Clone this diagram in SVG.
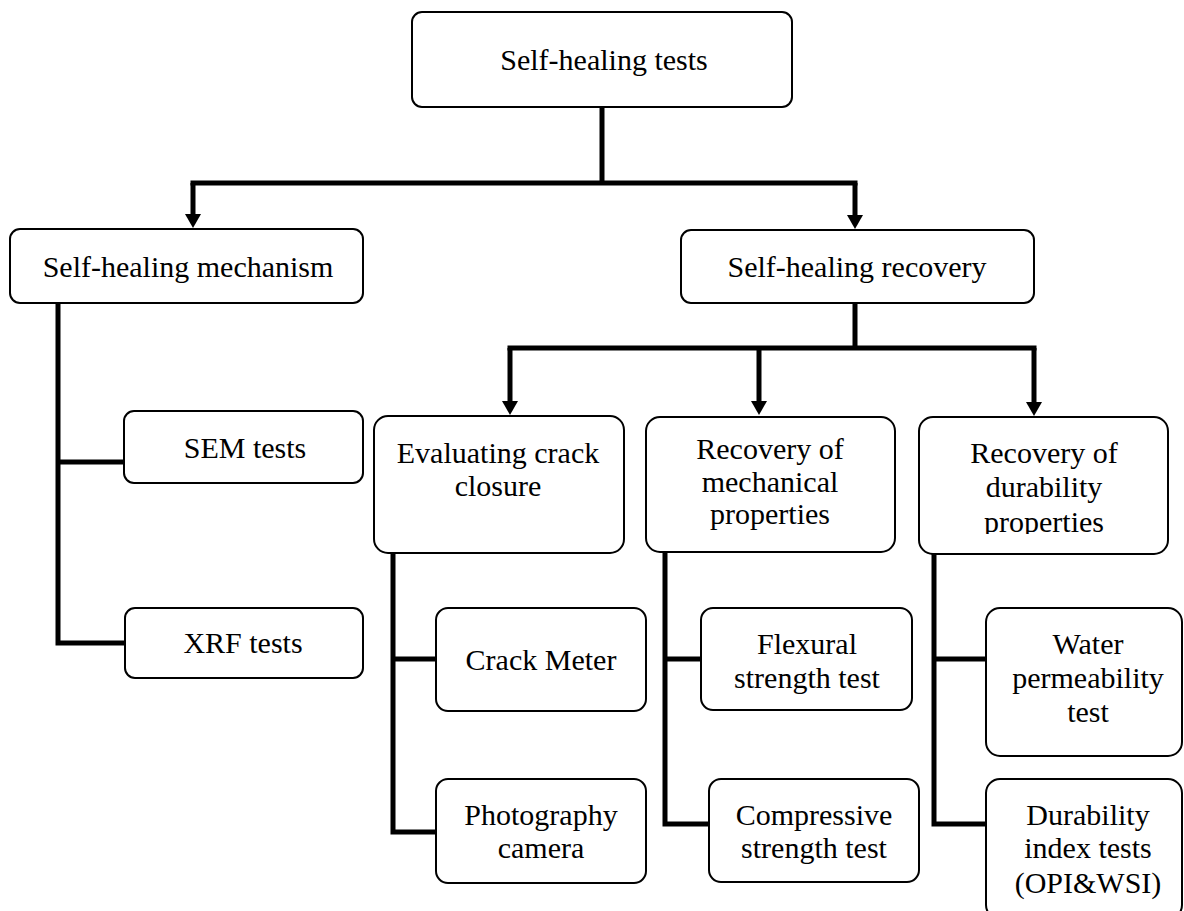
<svg xmlns="http://www.w3.org/2000/svg" width="1184" height="911" viewBox="0 0 1184 911">
<style>
.box{fill:#fff;stroke:#000;stroke-width:2}
.t{font-family:"Liberation Serif","Times New Roman",serif;font-size:30px;fill:#000;text-anchor:middle}
.c{fill:none;stroke:#000;stroke-width:5;stroke-linejoin:miter;stroke-linecap:square}
.a{fill:none;stroke:#000;stroke-width:5;stroke-linecap:butt}
</style>
<defs>
<marker id="arr" markerUnits="userSpaceOnUse" markerWidth="14" markerHeight="16" viewBox="0 0 14 16" refX="0" refY="8" orient="auto">
<path d="M0,0 L14,8 L0,16 z" fill="#000"/>
</marker>
<clipPath id="clipDur"><rect x="900" y="400" width="284" height="134"/></clipPath>
</defs>
<g id="connectors">
<path class="c" d="M602,110 V183 M193,183 H855"/>
<path class="a" d="M193,183 V214" marker-end="url(#arr)"/>
<path class="a" d="M855,183 V215" marker-end="url(#arr)"/>
<path class="c" d="M855,305 V348 M510,348 H1034"/>
<path class="a" d="M510,348 V401" marker-end="url(#arr)"/>
<path class="a" d="M759,348 V401" marker-end="url(#arr)"/>
<path class="a" d="M1034,348 V402" marker-end="url(#arr)"/>
<path class="c" d="M58,305 V643 H124 M58,462 H124"/>
<path class="c" d="M393,555 V832 H436 M393,659 H436"/>
<path class="c" d="M665,554 V824 H709 M665,659 H701"/>
<path class="c" d="M934,556 V824 H986 M934,659 H986"/>
</g>
<g id="n-top">
<rect class="box" x="412" y="12" width="380" height="95" rx="10"/>
<text class="t" x="604" y="70">Self-healing tests</text>
</g>
<g id="n-mechanism">
<rect class="box" x="10" y="229" width="353" height="74" rx="10"/>
<text class="t" x="188" y="277">Self-healing mechanism</text>
</g>
<g id="n-recovery">
<rect class="box" x="681" y="230" width="353" height="73" rx="10"/>
<text class="t" x="857" y="277">Self-healing recovery</text>
</g>
<g id="n-sem">
<rect class="box" x="124" y="411" width="239" height="72" rx="10"/>
<text class="t" x="245" y="458">SEM tests</text>
</g>
<g id="n-xrf">
<rect class="box" x="125" y="608" width="238" height="70" rx="10"/>
<text class="t" x="243" y="653">XRF tests</text>
</g>
<g id="n-crack">
<rect class="box" x="374" y="416" width="250" height="137" rx="14"/>
<text class="t" x="498" y="463">Evaluating crack</text>
<text class="t" x="498" y="496">closure</text>
</g>
<g id="n-mech">
<rect class="box" x="646" y="417" width="249" height="135" rx="14"/>
<text class="t" x="770" y="459">Recovery of</text>
<text class="t" x="770" y="492">mechanical</text>
<text class="t" x="770" y="524">properties</text>
</g>
<g id="n-dur">
<rect class="box" x="919" y="417" width="249" height="137" rx="14"/>
<text class="t" x="1044" y="463">Recovery of</text>
<text class="t" x="1044" y="497">durability</text>
<text class="t" x="1044" y="532" clip-path="url(#clipDur)">properties</text>
</g>
<g id="n-crackmeter">
<rect class="box" x="436" y="608" width="210" height="103" rx="12"/>
<text class="t" x="541" y="670">Crack Meter</text>
</g>
<g id="n-photo">
<rect class="box" x="436" y="779" width="210" height="104" rx="12"/>
<text class="t" x="541" y="825">Photography</text>
<text class="t" x="541" y="858">camera</text>
</g>
<g id="n-flex">
<rect class="box" x="701" y="608" width="211" height="102" rx="12"/>
<text class="t" x="807" y="654">Flexural</text>
<text class="t" x="807" y="688">strength test</text>
</g>
<g id="n-comp">
<rect class="box" x="709" y="779" width="210" height="103" rx="12"/>
<text class="t" x="814" y="825">Compressive</text>
<text class="t" x="814" y="858">strength test</text>
</g>
<g id="n-water">
<rect class="box" x="986" y="608" width="196" height="148" rx="14"/>
<text class="t" x="1088" y="654">Water</text>
<text class="t" x="1088" y="688">permeability</text>
<text class="t" x="1088" y="722">test</text>
</g>
<g id="n-durindex">
<rect class="box" x="986" y="779" width="196" height="140" rx="14"/>
<text class="t" x="1088" y="825">Durability</text>
<text class="t" x="1088" y="858">index tests</text>
<text class="t" x="1088" y="893">(OPI&amp;WSI)</text>
</g>
</svg>
